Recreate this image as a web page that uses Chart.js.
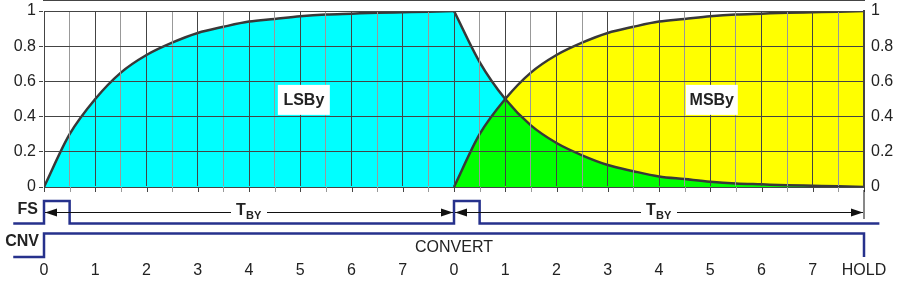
<!DOCTYPE html>
<html>
<head>
<meta charset="utf-8">
<script src="https://cdn.jsdelivr.net/npm/chart.js@4"></script>
<style>
  html, body { margin: 0; padding: 0; background: #fff; }
  #wrap { width: 898px; height: 283px; }
</style>
</head>
<body>
<div id="wrap"><canvas id="chart1" width="898" height="283"></canvas></div>
<script>
// time axis, two conversion periods of 8 steps each
const riseTimes  = [0, 0.5, 1, 1.5, 2, 2.5, 3, 3.5, 4, 4.5, 5, 5.5, 6, 6.5, 7, 7.5, 8];
const decayTimes = [8, 8.5, 9, 9.5, 10, 10.5, 11, 11.5, 12, 12.5, 13, 13.5, 14, 14.5, 15, 15.5, 16];

// LSBy settling (first period) and its decay (second period)
const lsbyRise  = [0, 0.3, 0.5, 0.65, 0.75, 0.82, 0.875, 0.91, 0.94, 0.955, 0.97, 0.98, 0.985, 0.99, 0.993, 0.996, 1];
const lsbyDecay = [1, 0.71, 0.5, 0.35, 0.25, 0.18, 0.125, 0.09, 0.06, 0.045, 0.03, 0.02, 0.015, 0.01, 0.007, 0.004, 0];
// MSBy settling in second period
const msbyRise  = [0, 0.3, 0.5, 0.65, 0.75, 0.82, 0.875, 0.91, 0.94, 0.955, 0.97, 0.98, 0.985, 0.99, 0.993, 0.996, 1];

// timing signals (logic state, changes at time)
const fsTimes  = [-0.6, 0, 0.5, 8, 8.5, 16.3];
const fsState  = [0, 1, 0, 1, 0, 0];
const cnvTimes = [-0.6, 0, 16, 16.3];
const cnvState = [0, 1, 0, 0];

const xTickLabels = ['0', '1', '2', '3', '4', '5', '6', '7', '0', '1', '2', '3', '4', '5', '6', '7', 'HOLD'];
const yTickLabels = ['0', '0.2', '0.4', '0.6', '0.8', '1'];

const FONT = '"Liberation Sans", Arial, sans-serif';
const NAVY = '#26318c';
const CURVE = '#383838';

function pts(xs, ys) {
    return ys.map(function (y, i) { return { x: xs[i], y: y }; });
}

// chart area is 11..187 px; place a 0/1 logic trace at given pixel rows
const AREA_TOP = 11, AREA_BOT = 187;
function levelAxis(lowPx, highPx) {
    var h = AREA_BOT - AREA_TOP;
    var range = h / (lowPx - highPx);
    var min = (lowPx - AREA_BOT) / h * range;
    return {
        type: 'linear', display: false, position: 'left',
        min: min, max: min + range,
        grid: { display: false }, border: { display: false }, ticks: { display: false }
    };
}

// green = region under both curves
var greenA = pts(decayTimes.slice(0, 3), msbyRise.slice(0, 3));
var greenB = pts(decayTimes.slice(2), lsbyDecay.slice(2));

var overlay = {
    id: 'overlay',
    beforeDraw: function (chart) {
        var c = chart.ctx;
        c.save();
        c.fillStyle = '#fff';
        c.fillRect(0, 0, chart.width, chart.height);
        c.restore();
    },
    afterDraw: function (chart) {
        var c = chart.ctx;
        var xs = chart.scales.x, ys = chart.scales.y;
        var bottom = chart.chartArea.bottom;
        c.save();

        // keep the far left margin clean
        c.fillStyle = '#fff';
        c.fillRect(0, 0, 4, chart.height);

        // small tick marks under the x axis
        c.lineWidth = 1;
        xs.ticks.forEach(function (t) {
            var px = Math.round(xs.getPixelForValue(t.value)) + 0.5;
            c.strokeStyle = Number.isInteger(t.value) ? '#444' : '#999';
            c.beginPath();
            c.moveTo(px, bottom);
            c.lineTo(px, bottom + 5);
            c.stroke();
        });

        // LSBy / MSBy boxes
        [['LSBy', 5.07], ['MSBy', 13.03]].forEach(function (b) {
            var cx = xs.getPixelForValue(b[1]);
            var cy = ys.getPixelForValue(0.495);
            c.fillStyle = '#fff';
            c.fillRect(cx - 26, cy - 15, 52, 30);
            c.fillStyle = '#222';
            c.font = 'bold 16px ' + FONT;
            c.textAlign = 'center';
            c.textBaseline = 'middle';
            c.fillText(b[0], cx, cy + 1);
        });

        // signal names
        c.fillStyle = '#222';
        c.font = 'bold 16px ' + FONT;
        c.textAlign = 'right';
        c.textBaseline = 'middle';
        c.fillText('FS', 38, 210);
        c.fillText('CNV', 39, 242);

        c.font = '16px ' + FONT;
        c.textAlign = 'center';
        c.fillText('CONVERT', xs.getPixelForValue(8), 248);

        // T_BY arrows
        var ay = 212.5;
        function arrow(t0, t1) {
            var x0 = xs.getPixelForValue(t0) + 1, x1 = xs.getPixelForValue(t1) - 1;
            var mid = (x0 + x1) / 2;
            c.strokeStyle = '#111';
            c.lineWidth = 1;
            c.beginPath();
            c.moveTo(x0, ay); c.lineTo(mid - 18, ay);
            c.moveTo(mid + 18, ay); c.lineTo(x1, ay);
            c.stroke();
            c.fillStyle = '#111';
            c.beginPath();
            c.moveTo(x0, ay); c.lineTo(x0 + 12, ay - 4); c.lineTo(x0 + 12, ay + 4); c.closePath();
            c.fill();
            c.beginPath();
            c.moveTo(x1, ay); c.lineTo(x1 - 12, ay - 4); c.lineTo(x1 - 12, ay + 4); c.closePath();
            c.fill();
            c.fillStyle = '#222';
            c.textAlign = 'left';
            c.textBaseline = 'middle';
            c.font = 'bold 16px ' + FONT;
            c.fillText('T', mid - 13, ay - 2);
            c.font = 'bold 11px ' + FONT;
            c.fillText('BY', mid - 3, ay + 3);
        }
        arrow(0, 8);
        arrow(8, 16);

        // end marker of second period
        var ex = xs.getPixelForValue(16);
        c.strokeStyle = '#111';
        c.beginPath();
        c.moveTo(ex, 190); c.lineTo(ex, 219);
        c.stroke();

        c.restore();
    }
};

var ctx = document.getElementById('chart1').getContext('2d');

var myChart = new Chart(ctx, {
    type: 'line',
    data: {
        datasets: [
            // outlines on top
            { data: pts(riseTimes, lsbyRise), borderColor: CURVE, borderWidth: 2.5, fill: false },
            { data: pts(decayTimes, lsbyDecay), borderColor: CURVE, borderWidth: 2.5, fill: false },
            { data: pts(decayTimes, msbyRise), borderColor: CURVE, borderWidth: 2.5, fill: false },
            // fills
            { data: greenA, borderWidth: 0, fill: 'origin', backgroundColor: '#00ff00' },
            { data: greenB, borderWidth: 0, fill: 'origin', backgroundColor: '#00ff00' },
            { data: pts(decayTimes, msbyRise), borderWidth: 0, fill: 'origin', backgroundColor: '#ffff00' },
            { data: pts(decayTimes, lsbyDecay), borderWidth: 0, fill: 'origin', backgroundColor: '#00ffff' },
            { data: pts(riseTimes, lsbyRise), borderWidth: 0, fill: 'origin', backgroundColor: '#00ffff' },
            // timing diagram
            { data: pts(fsTimes, fsState), yAxisID: 'fs', stepped: true, clip: false, fill: false,
              borderColor: NAVY, borderWidth: 2.5, cubicInterpolationMode: 'default', tension: 0 },
            { data: pts(cnvTimes, cnvState), yAxisID: 'cnv', stepped: true, clip: false, fill: false,
              borderColor: NAVY, borderWidth: 2.5, cubicInterpolationMode: 'default', tension: 0 }
        ]
    },
    options: {
        responsive: false,
        animation: false,
        events: [],
        layout: { padding: { top: AREA_TOP, bottom: 0, left: 0, right: 0 } },
        elements: {
            point: { radius: 0 },
            line: { cubicInterpolationMode: 'monotone' }
        },
        plugins: {
            legend: { display: false },
            tooltip: { enabled: false }
        },
        scales: {
            x: {
                type: 'linear',
                min: 0,
                max: 16,
                afterFit: function (s) { s.height = 283 - AREA_BOT; },
                ticks: {
                    stepSize: 0.5,
                    autoSkip: false,
                    maxRotation: 0,
                    padding: 2,
                    color: '#222',
                    font: { family: FONT, size: 16 },
                    callback: function (v) {
                        return Number.isInteger(v) ? xTickLabels[v] : '';
                    }
                },
                grid: {
                    z: 1,
                    tickLength: 72,
                    tickColor: 'transparent',
                    color: function (c) {
                        return c.tick && Number.isInteger(c.tick.value) ? '#444' : '#999';
                    }
                },
                border: { color: '#444', width: 2 }
            },
            y: {
                position: 'left',
                min: 0,
                max: 1,
                afterFit: function (s) { s.width = 44; },
                ticks: {
                    stepSize: 0.2,
                    padding: 3,
                    color: '#222',
                    font: { family: FONT, size: 16, lineHeight: 1 },
                    callback: function (v, i) { return yTickLabels[i]; }
                },
                grid: { z: 1, color: '#444', tickLength: 5, tickColor: '#444' },
                border: { color: '#444', width: 1.5 }
            },
            y2: {
                position: 'right',
                min: 0,
                max: 1,
                afterFit: function (s) { s.width = 898 - 864; },
                ticks: {
                    stepSize: 0.2,
                    padding: 0,
                    color: '#222',
                    font: { family: FONT, size: 16, lineHeight: 1 },
                    callback: function (v, i) { return yTickLabels[i]; }
                },
                grid: { drawOnChartArea: false, tickLength: 7, tickColor: 'transparent' },
                border: { color: '#444', width: 2, z: 1 }
            },
            fs: levelAxis(223.5, 201),
            cnv: levelAxis(257, 233.5)
        }
    },
    plugins: [overlay]
});
</script>
</body>
</html>
